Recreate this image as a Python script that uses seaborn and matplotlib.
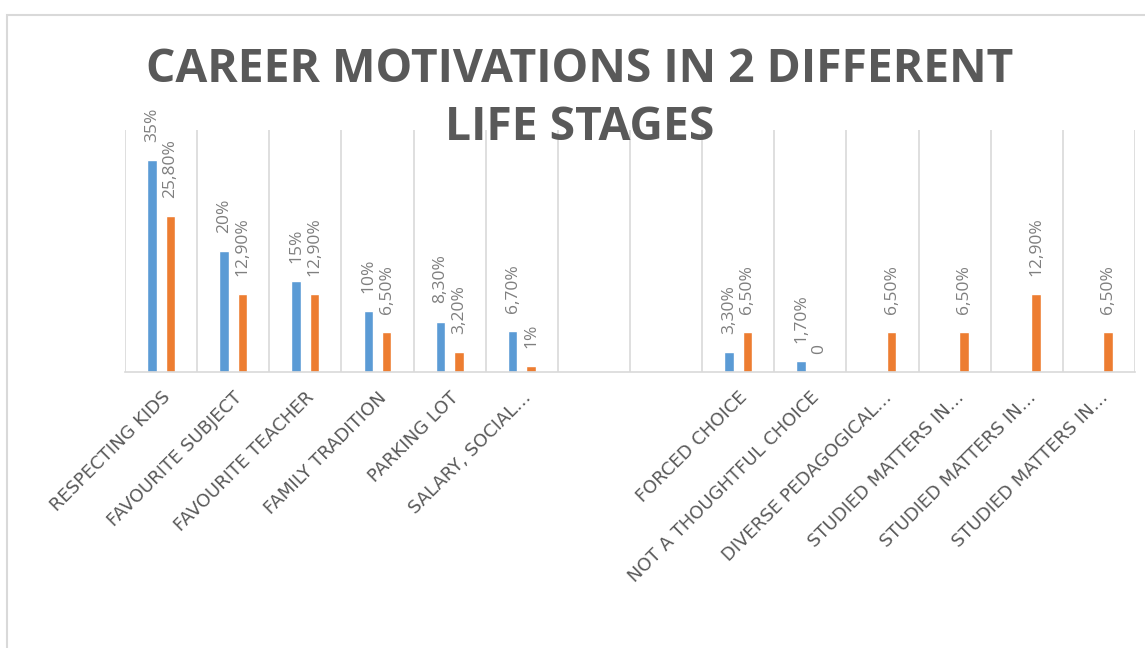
"""Career motivations in 2 different life stages - grouped bar chart."""
import matplotlib

matplotlib.use("Agg")
import matplotlib.pyplot as plt  # noqa: E402
import numpy as np  # noqa: E402
import pandas as pd  # noqa: E402
import seaborn as sns  # noqa: E402
from matplotlib.patches import Rectangle  # noqa: E402

# --- data ---------------------------------------------------------------
categories = [
    "Respecting kids",
    "Favourite subject",
    "Favourite teacher",
    "Family tradition",
    "Parking lot",
    "Salary, social",
    "(blank 1)",
    "(blank 2)",
    "Forced choice",
    "Not a thoughtful choice",
    "Diverse pedagogical",
    "Studied matters in (1)",
    "Studied matters in (2)",
    "Studied matters in (3)",
]
tick_labels = [
    "RESPECTING KIDS",
    "FAVOURITE SUBJECT",
    "FAVOURITE TEACHER",
    "FAMILY TRADITION",
    "PARKING LOT",
    "SALARY, SOCIAL…",
    "",
    "",
    "FORCED CHOICE",
    "NOT A THOUGHTFUL CHOICE",
    "DIVERSE PEDAGOGICAL…",
    "STUDIED MATTERS IN…",
    "STUDIED MATTERS IN…",
    "STUDIED MATTERS IN…",
]
series_names = ["Stage 1", "Stage 2"]
stage_1 = [35, 20, 15, 10, 8.3, 6.7, np.nan, np.nan, 3.3, 1.7, np.nan, np.nan, np.nan, np.nan]
stage_2 = [25.8, 12.9, 12.9, 6.5, 3.2, 1, np.nan, np.nan, 6.5, 0, 6.5, 6.5, 12.9, 6.5]

TITLE_LINES = ["CAREER MOTIVATIONS IN 2 DIFFERENT", "LIFE STAGES"]
COLORS = ["#5B9BD5", "#ED7D31"]
GRID = "#D9D9D9"
TEXT = "#595959"
LABEL = "#7F7F7F"


def fmt(v):
    # the source sheet mixes "35%" and "25,80%" styles
    if v == 0:
        return "0"
    if float(v).is_integer():
        return f"{int(v)}%"
    return f"{v:.2f}%".replace(".", ",")


def run():
    sns.set_style("white")
    plt.rcParams["font.family"] = ["Open Sans", "DejaVu Sans"]

    df = pd.DataFrame({
        "category": categories * 2,
        "stage": [series_names[0]] * len(categories) + [series_names[1]] * len(categories),
        "value": stage_1 + stage_2,
    })
    values = {series_names[0]: stage_1, series_names[1]: stage_2}

    fig = plt.figure(figsize=(11.45, 6.48), dpi=100)
    ax = fig.add_axes([125 / 1145, 1 - 371.7 / 648, 1010 / 1145, 241.7 / 648])

    sns.barplot(
        data=df, x="category", y="value", hue="stage",
        order=categories, hue_order=series_names, palette=COLORS,
        saturation=1, width=0.51, gap=0.49, errorbar=None, legend=False, ax=ax,
    )

    # data labels, read back from the drawn bars
    for cont, name in zip(ax.containers, series_names):
        labels = []
        for bar in cont:
            idx = int(round(bar.get_x() + bar.get_width() / 2))
            labels.append(fmt(values[name][idx]))
        ax.bar_label(cont, labels=labels, rotation=90, padding=13,
                     fontsize=12.5, color=LABEL)

    ax.set_ylim(0, 40)
    ax.set_xlim(-0.5, len(categories) - 0.5)
    ax.set_yticks([])
    ax.set_xlabel("")
    ax.set_ylabel("")
    ax.set_xticks(np.arange(len(categories) + 1) - 0.5, minor=True)
    ax.grid(which="minor", axis="x", color=GRID, lw=1.2)
    ax.grid(which="major", visible=False)
    ax.set_xticks(range(len(categories)), tick_labels, rotation=45,
                  ha="right", rotation_mode="anchor", fontsize=13,
                  color=TEXT, family=["DejaVu Sans"])
    ax.tick_params(axis="x", which="both", length=0, pad=12)
    for side in ("left", "top", "right"):
        ax.spines[side].set_visible(False)
    ax.spines["bottom"].set_color(GRID)
    ax.spines["bottom"].set_linewidth(1.2)

    # two-line title, one text per line
    for line, base in zip(TITLE_LINES, [82, 140]):
        fig.text(580 / 1145, 1 - base / 648, line, ha="center", va="baseline",
                 fontsize=33.3, fontweight="bold", color=TEXT)

    # chart frame, runs off the right and bottom edges
    fig.patches.append(Rectangle((6.5 / 1145, -0.1), 1.2, 1 - 15 / 648 + 0.1,
                                 transform=fig.transFigure, fill=False,
                                 edgecolor=GRID, lw=1.5))

    fig.savefig("out.png", dpi=100)
    plt.close(fig)


if __name__ == "__main__":
    run()
